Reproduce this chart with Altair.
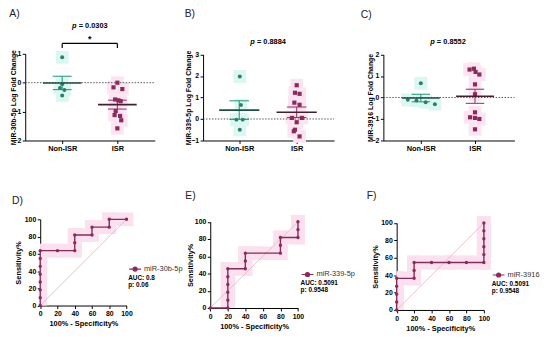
import altair as alt
import pandas as pd

W, H = 542, 332
FONT = "Liberation Sans"

TEAL = "#2b7f6b"
TEAL_SEM = "#2a9b7f"
TEAL_MEAN = "#1d4f44"
TEAL_LIGHT = "#daf7f2"
MAROON = "#8c2a5b"
MAROON_SEM = "#a0356a"
MAROON_MEAN = "#42202e"
PINK_LIGHT = "#fde4f2"
ROC_LINE = "#8a2a58"
ROC_BAND = "#fbe0f0"
DIAG = "#e6b2b8"

groups = ["Non-ISR", "ISR"]

# ---- Panel A: miR-30b-5p ----
a_non = [0.88, -0.05, -0.18, -0.25, -0.44]
a_non_dx = [0.00, 0.00, -0.04, 0.04, 0.00]
a_isr = [0.00, -0.16, -0.22, -0.58, -0.61, -0.64, -0.98, -1.12, -1.15, -1.30, -1.58]
a_isr_dx = [0.00, -0.07, 0.09, -0.04, 0.02, 0.06, -0.03, -0.05, 0.05, 0.07, 0.00]
a_p = "0.0303"

# ---- Panel B: miR-339-5p ----
b_non = [1.98, 0.65, -0.03, -0.03, -0.50]
b_non_dx = [0.01, 0.03, -0.05, 0.06, 0.01]
b_isr = [1.57, 1.22, 1.17, 0.76, 0.66, 0.05, 0.05, -0.15, -0.50, -0.57, -0.81]
b_isr_dx = [0.00, -0.03, 0.05, -0.04, 0.05, -0.08, 0.09, 0.00, -0.03, -0.05, 0.05]
b_p = "0.8884"

# ---- Panel C: miR-3916 ----
c_non = [0.66, -0.11, -0.14, -0.22, -0.31]
c_non_dx = [0.00, -0.24, -0.08, 0.09, 0.26]
c_isr = [1.30, 1.34, 1.19, 1.07, 0.61, 0.15, -0.69, -0.92, -0.95, -1.00, -1.48]
c_isr_dx = [-0.10, -0.02, 0.01, 0.08, 0.00, 0.00, 0.00, -0.09, 0.00, 0.08, 0.00]
c_p = "0.8552"

# ---- ROC curves (100% - specificity %, sensitivity %) ----
d_spec = [0, 0, 0, 0, 0, 0, 0, 0, 20, 40, 40, 40, 60, 60, 80, 80, 100]
d_sens = [0, 9.09, 18.18, 27.27, 36.36, 45.45, 54.55, 63.64, 63.64, 63.64, 72.73, 81.82,
          81.82, 90.91, 90.91, 100, 100]
d_name = "miR-30b-5p"
d_auc = ["AUC: 0.8", "p: 0.06"]

e_spec = [0, 20, 20, 20, 20, 20, 20, 40, 40, 40, 80, 80, 80, 100, 100, 100]
e_sens = [0, 0, 9.09, 18.18, 27.27, 36.36, 45.45, 45.45, 54.55, 63.64, 63.64, 72.73,
          81.82, 81.82, 90.91, 100]
e_name = "miR-339-5p"
e_auc = ["AUC: 0.5091", "p: 0.9548"]

f_spec = [0, 0, 0, 0, 0, 20, 20, 20, 40, 60, 80, 100, 100, 100, 100, 100, 100]
f_sens = [0, 9.09, 18.18, 27.27, 36.36, 36.36, 45.45, 54.55, 54.55, 54.55, 54.55, 54.55,
          63.64, 72.73, 81.82, 90.91, 100]
f_name = "miR-3916"
f_auc = ["AUC: 0.5091", "p: 0.9548"]

CAP = 0.17   # half width of SEM caps (category units)
MW = 0.35    # half width of mean line
BAND = 8     # half width of ROC highlight band (percent units)


def axis(**kw):
    base = dict(domainColor="black", domainWidth=1, tickColor="black", tickWidth=1,
                tickSize=3, labelFont=FONT, labelFontSize=7, labelFontWeight="bold",
                labelColor="black", labelPadding=1.5, titleFont=FONT, titleFontSize=7,
                titleFontWeight="bold", titleColor="black", grid=False,
                labelFlush=False, labelOverlap=False)
    base.update(kw)
    return alt.Axis(**base)


def letter_layer(letter, px, py):
    return alt.Chart(pd.DataFrame({"t": [letter]})).mark_text(
        font=FONT, fontSize=10.5, color="#222", align="left", baseline="middle"
    ).encode(text="t:N", x=alt.value(px), y=alt.value(py))


def dot_panel(non, non_dx, isr, isr_dx, y_dom, y_px, x_px, y_ticks, y_title, title_x,
              p_value, p_y, letter, letter_xy, bracket=None):
    start, c1, c2, end = x_px
    unit = c2 - c1
    d0 = 1 - (c1 - start) / unit
    d1 = 2 + (end - c2) / unit
    xs = alt.Scale(domain=[d0, d1], range=[start, end], nice=False, zero=False)
    ys = alt.Scale(domain=y_dom, range=y_px, nice=False, zero=False)
    x_axis = axis(orient="bottom", offset=y_px[0] - H, values=[1, 2],
                  labelExpr="datum.value == 1 ? 'Non-ISR' : 'ISR'", title=None,
                  labelFontSize=7.5)
    y_axis = axis(orient="left", offset=-start, values=y_ticks, title=y_title,
                  titleX=title_x, titleBaseline="bottom")

    def X(f="x"):
        return alt.X(f"{f}:Q", scale=xs, axis=x_axis)

    def Y(f="v"):
        return alt.Y(f"{f}:Q", scale=ys, axis=y_axis)

    pn = pd.DataFrame({"x": [1 + d for d in non_dx], "v": non})
    pi = pd.DataFrame({"x": [2 + d for d in isr_dx], "v": isr})

    rows = []
    for cat, vals, sem_c, mean_c in [(1, non, TEAL_SEM, TEAL_MEAN), (2, isr, MAROON_SEM, MAROON_MEAN)]:
        s = pd.Series(vals)
        m = s.mean()
        se = s.std(ddof=1) / len(s) ** 0.5
        rows.append(dict(x=cat, mean=m, lo=m - se, hi=m + se, c0=cat - CAP, c1=cat + CAP,
                         m0=cat - MW, m1=cat + MW, sem_c=sem_c, mean_c=mean_c))
    st = pd.DataFrame(rows)
    zero = pd.DataFrame({"x0": [d0], "x1": [d1], "v": [0.0]})
    sem_col = alt.Color("sem_c:N", scale=None)
    ptxt = pd.DataFrame({"x": [1.5], "v": [p_y], "p": ["p"], "t": ["= " + p_value]})

    layers = [
        alt.Chart(pn).mark_square(size=170, color=TEAL_LIGHT, opacity=1).encode(x=X(), y=Y()),
        alt.Chart(pi).mark_square(size=170, color=PINK_LIGHT, opacity=1).encode(x=X(), y=Y()),
        alt.Chart(zero).mark_rule(color="#444", strokeWidth=0.9, strokeDash=[1.5, 1.5]).encode(
            x=X("x0"), x2="x1:Q", y=Y()),
        alt.Chart(st).mark_rule(strokeWidth=1.1).encode(x=X(), y=Y("lo"), y2="hi:Q", color=sem_col),
        alt.Chart(st).mark_rule(strokeWidth=1.1).encode(x=X("c0"), x2="c1:Q", y=Y("lo"), color=sem_col),
        alt.Chart(st).mark_rule(strokeWidth=1.1).encode(x=X("c0"), x2="c1:Q", y=Y("hi"), color=sem_col),
        alt.Chart(pn).mark_circle(size=16, color=TEAL, opacity=1).encode(x=X(), y=Y()),
        alt.Chart(pi).mark_square(size=18, color=MAROON, opacity=1).encode(x=X(), y=Y()),
        alt.Chart(st).mark_rule(strokeWidth=1.6).encode(
            x=X("m0"), x2="m1:Q", y=Y("mean"), color=alt.Color("mean_c:N", scale=None)),
        alt.Chart(ptxt).mark_text(
            font=FONT, fontSize=7.5, fontWeight="bold", fontStyle="italic", color="black",
            baseline="middle", align="left", dx=-18
        ).encode(x=X(), y=Y(), text="p:N"),
        alt.Chart(ptxt).mark_text(
            font=FONT, fontSize=7.5, fontWeight="bold", color="black",
            baseline="middle", align="left", dx=-11.2
        ).encode(x=X(), y=Y(), text="t:N"),
        letter_layer(letter, *letter_xy),
    ]
    if bracket is not None:
        top, low, star_y = bracket
        br = pd.DataFrame({"x": [1, 1, 2], "x2": [2, 1, 2], "v": [top, top, top], "v2": [top, low, low]})
        layers.append(alt.Chart(br).mark_rule(color="black", strokeWidth=1.2).encode(
            x=X(), x2="x2:Q", y=Y(), y2="v2:Q"))
        layers.append(alt.Chart(pd.DataFrame({"x": [1.5], "v": [star_y], "t": ["*"]})).mark_text(
            font=FONT, fontSize=9, fontWeight="bold", color="black", baseline="middle"
        ).encode(x=X(), y=Y(), text="t:N"))
    return alt.layer(*layers)


SYMBOL = "M-1,0L1,0M-0.34,0A0.34,0.34,0,1,1,0.34,0A0.34,0.34,0,1,1,-0.34,0Z"


def roc_panel(spec, sens, name, auc_lines, x_px, y_px, legend_xy, letter, letter_xy, title_x):
    xs = alt.Scale(domain=[0, 100], range=x_px, nice=False, zero=False)
    ys = alt.Scale(domain=[0, 100], range=y_px, nice=False, zero=False)
    ticks = [0, 20, 40, 60, 80, 100]
    x_axis = axis(orient="bottom", offset=y_px[0] - H, values=ticks,
                  title="100% - Specificity%", titlePadding=3, titleFontSize=7.5)
    y_axis = axis(orient="left", offset=-x_px[0], values=ticks, title="Sensitivity%",
                  titleX=title_x, titleBaseline="bottom", titleFontSize=7.5)

    def X(f):
        return alt.X(f"{f}:Q", scale=xs, axis=x_axis)

    def Y(f):
        return alt.Y(f"{f}:Q", scale=ys, axis=y_axis)

    pts = pd.DataFrame({"i": list(range(len(spec))), "s": spec, "t": sens, "series": name})
    segs = []
    for k in range(len(spec) - 1):
        xa, xb = sorted([spec[k], spec[k + 1]])
        ya, yb = sorted([sens[k], sens[k + 1]])
        if yb == 0:
            continue
        segs.append(dict(s=max(0, xa - BAND), s2=xb + BAND, t=max(0, ya - BAND), t2=yb + BAND))
    band = alt.Chart(pd.DataFrame(segs)).mark_rect(color=ROC_BAND, opacity=1).encode(
        x=X("s"), x2="s2:Q", y=Y("t"), y2="t2:Q")
    diag = alt.Chart(pd.DataFrame({"s": [0.0], "t": [0.0], "s2": [100.0], "t2": [100.0]})).mark_rule(
        color=DIAG, strokeWidth=0.8).encode(x=X("s"), y=Y("t"), x2="s2:Q", y2="t2:Q")
    line = alt.Chart(pts).mark_line(color=ROC_LINE, strokeWidth=1.4).encode(
        x=X("s"), y=Y("t"), order="i:Q")
    legend = alt.Legend(
        orient="none", legendX=legend_xy[0], legendY=legend_xy[1], title=auc_lines,
        titleOrient="bottom", titleAnchor="start", titleFont=FONT, titleFontSize=6.5,
        titleFontWeight="bold", titleColor="black", titleLineHeight=7, titlePadding=2,
        labelFont=FONT, labelFontSize=7.5, labelColor="#333", labelOffset=2,
        symbolType=SYMBOL, symbolSize=144, symbolStrokeWidth=1.2,
        symbolStrokeColor=ROC_LINE, symbolFillColor=ROC_LINE, padding=0, offset=0)
    dots = alt.Chart(pts).mark_circle(size=12, opacity=1).encode(
        x=X("s"), y=Y("t"),
        color=alt.Color("series:N", scale=alt.Scale(domain=[name], range=[ROC_LINE]), legend=legend))
    return alt.layer(band, diag, line, dots, letter_layer(letter, *letter_xy))


pA = dot_panel(a_non, a_non_dx, a_isr, a_isr_dx, [-2, 1], [132, 44], [17.5, 55, 111, 149],
               [-2, -1, 0, 1], "MiR-30b-5p Log Fold Change", -9, a_p, 1.955, "A)", (1.3, 4),
               bracket=(1.36, 1.2, 1.5))
pB = dot_panel(b_non, b_non_dx, b_isr, b_isr_dx, [-1, 3], [132, 44.7], [198, 234.7, 293, 331],
               [-1, 0, 1, 2, 3], "MiR-339-5p Log Fold Change", -11.5, b_p, 3.6, "B)", (179.3, 4))
pC = dot_panel(c_non, c_non_dx, c_isr, c_isr_dx, [-2, 2], [132, 44.7], [381, 419, 474, 514],
               [-2, -1, 0, 1, 2], "MiR-3916 Log Fold Change", -10, c_p, 2.6, "C)", (358, 5))

pD = roc_panel(d_spec, d_sens, d_name, d_auc, [32.7, 120.3], [299.5, 212], (122, 255.5),
               "D)", (4, 193), -17.5)
pE = roc_panel(e_spec, e_sens, e_name, e_auc, [205.3, 294.3], [302, 214.5], (297, 261),
               "E)", (180, 188), -16.5)
pF = roc_panel(f_spec, f_sens, f_name, f_auc, [394.5, 483], [304, 215.7], (491, 261.5),
               "F)", (364, 188), -17.5)

chart = alt.layer(pA, pB, pC, pD, pE, pF).resolve_scale(
    x="independent", y="independent", color="independent"
).properties(
    width=W, height=H, padding=0, autosize=alt.AutoSizeParams(type="none")
).configure_view(stroke=None)

chart.save("out.html", embed_options={"renderer": "svg", "actions": False})
